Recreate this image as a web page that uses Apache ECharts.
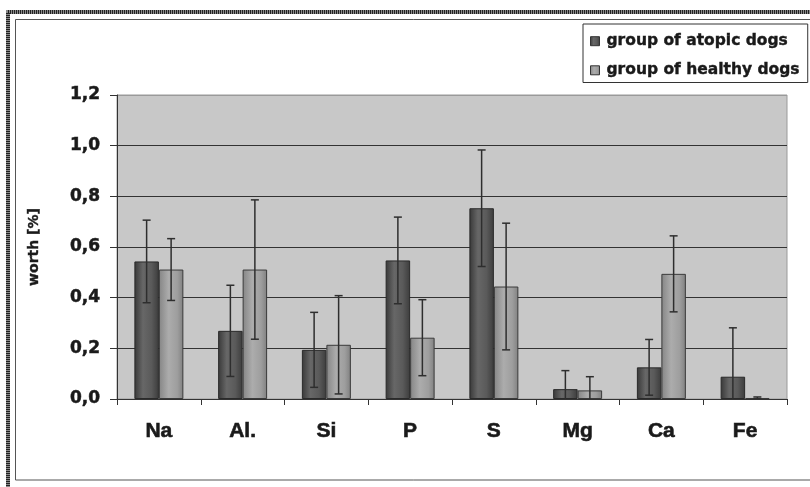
<!DOCTYPE html>
<html>
<head>
<meta charset="utf-8">
<script src="https://cdn.jsdelivr.net/npm/echarts@6/dist/echarts.min.js"></script>
<style>
html,body{margin:0;padding:0;background:#fff;}
#chart{width:810px;height:487px;}
</style>
</head>
<body>
<div id="chart"></div>
<script>
var categories = ['Na', 'Al.', 'Si', 'P', 'S', 'Mg', 'Ca', 'Fe'];
var atopicValues = [0.543, 0.269, 0.194, 0.547, 0.753, 0.039, 0.125, 0.088];
var atopicErrors = [0.163, 0.180, 0.148, 0.171, 0.230, 0.073, 0.110, 0.193];
var healthyValues = [0.511, 0.511, 0.214, 0.242, 0.444, 0.034, 0.494, 0.004];
var healthyErrors = [0.122, 0.275, 0.194, 0.150, 0.250, 0.054, 0.150, 0.004];
var yTickLabels = ['0,0', '0,2', '0,4', '0,6', '0,8', '1,0', '1,2'];
var seriesNames = ['group of atopic dogs', 'group of healthy dogs'];

var chart = echarts.init(document.getElementById('chart'), null, {renderer: 'canvas'});

var darkFill = new echarts.graphic.LinearGradient(0, 0, 1, 0, [
  {offset: 0, color: '#383838'},
  {offset: 0.35, color: '#676767'},
  {offset: 0.7, color: '#5a5a5a'},
  {offset: 1, color: '#3c3c3c'}
]);
var lightFill = new echarts.graphic.LinearGradient(0, 0, 1, 0, [
  {offset: 0, color: '#858585'},
  {offset: 0.4, color: '#acacac'},
  {offset: 0.75, color: '#9e9e9e'},
  {offset: 1, color: '#808080'}
]);

var GAP = 0.415;
var TXT = '#1a1a1a';

function errorSeries(values, errors, side, name) {
  return {
    type: 'custom',
    name: name + ' err',
    z: 5,
    clip: true,
    silent: true,
    data: values.map(function (v, i) { return [i, v - errors[i], v + errors[i]]; }),
    renderItem: function (params, api) {
      var idx = api.value(0);
      var band = api.size([1, 0])[0];
      var bw = band * (1 - GAP) / 2;
      var lo = api.coord([idx, api.value(1)]);
      var hi = api.coord([idx, api.value(2)]);
      var x = lo[0] + side * bw / 2;
      var cap = 4;
      var style = {stroke: '#2e2e2e', lineWidth: 1.5, fill: null};
      return {
        type: 'group',
        children: [
          {type: 'line', shape: {x1: x, y1: lo[1], x2: x, y2: hi[1]}, style: style},
          {type: 'line', shape: {x1: x - cap, y1: hi[1], x2: x + cap, y2: hi[1]}, style: style},
          {type: 'line', shape: {x1: x - cap, y1: lo[1], x2: x + cap, y2: lo[1]}, style: style}
        ]
      };
    }
  };
}

var option = {
  animation: false,
  backgroundColor: '#ffffff',
  graphic: [
    {type: 'rect', z: 0, shape: {x: 8, y: 12, width: 900, height: 600},
     style: {fill: null, stroke: '#8a8a8a', lineWidth: 4}},
    {type: 'rect', z: 0, shape: {x: 8, y: 12, width: 900, height: 600},
     style: {fill: null, stroke: '#222', lineWidth: 4, lineDash: [1, 1]}},
    {type: 'rect', z: 0, shape: {x: 15.5, y: 19.5, width: 900, height: 460.5},
     style: {fill: null, stroke: '#555', lineWidth: 1}}
  ],
  legend: {
    orient: 'vertical',
    left: 583,
    top: 24,
    data: seriesNames,
    icon: 'rect',
    backgroundColor: '#ffffff',
    borderColor: '#333',
    borderWidth: 1,
    borderRadius: 0,
    padding: [9, 8, 4, 7],
    itemWidth: 9,
    itemHeight: 9,
    itemGap: 12.7,
    itemStyle: {borderColor: '#333', borderWidth: 1},
    textStyle: {fontFamily: 'DejaVu Sans', fontWeight: 'bold', fontSize: 15.5, color: TXT, lineHeight: 14,
                padding: [0, 0, 0, 2], textBorderColor: TXT, textBorderWidth: 0.4}
  },
  grid: {
    left: 117, right: 23, top: 95, bottom: 88,
    show: true,
    backgroundColor: '#c8c8c8',
    borderColor: '#9a9a9a',
    borderWidth: 1
  },
  xAxis: {
    type: 'category',
    data: categories,
    axisLine: {lineStyle: {color: '#333', width: 1}},
    axisTick: {show: true, length: 6, lineStyle: {color: '#333'}},
    axisLabel: {fontFamily: 'Liberation Sans', fontWeight: 'bold', fontSize: 21, color: TXT, margin: 22,
                textBorderColor: TXT, textBorderWidth: 0.6}
  },
  yAxis: {
    type: 'value',
    min: 0, max: 1.2, interval: 0.2,
    name: 'worth [%]',
    nameLocation: 'middle',
    nameGap: 76,
    nameTextStyle: {fontFamily: 'DejaVu Sans', fontWeight: 'bold', fontSize: 14, color: TXT,
                    textBorderColor: TXT, textBorderWidth: 0.4},
    axisLine: {show: true, lineStyle: {color: '#333', width: 1}},
    axisTick: {show: true, length: 7, lineStyle: {color: '#333'}},
    axisLabel: {
      fontFamily: 'DejaVu Sans', fontWeight: 'bold', fontSize: 17, color: TXT, margin: 17,
      textBorderColor: TXT, textBorderWidth: 0.5,
      formatter: function (v) { return yTickLabels[Math.round(v / 0.2)]; }
    },
    splitLine: {show: true, lineStyle: {color: ['#333', '#333', '#333', '#333', '#333', '#333', '#9a9a9a'], width: 1}}
  },
  series: [
    {
      type: 'bar', name: seriesNames[0], data: atopicValues,
      barGap: '0%', barCategoryGap: (GAP * 100) + '%',
      itemStyle: {color: darkFill, borderColor: '#2a2a2a', borderWidth: 1}
    },
    {
      type: 'bar', name: seriesNames[1], data: healthyValues,
      barGap: '0%', barCategoryGap: (GAP * 100) + '%',
      itemStyle: {color: lightFill, borderColor: '#3a3a3a', borderWidth: 1}
    },
    errorSeries(atopicValues, atopicErrors, -1, seriesNames[0]),
    errorSeries(healthyValues, healthyErrors, 1, seriesNames[1])
  ]
};
chart.setOption(option);
</script>
</body>
</html>
